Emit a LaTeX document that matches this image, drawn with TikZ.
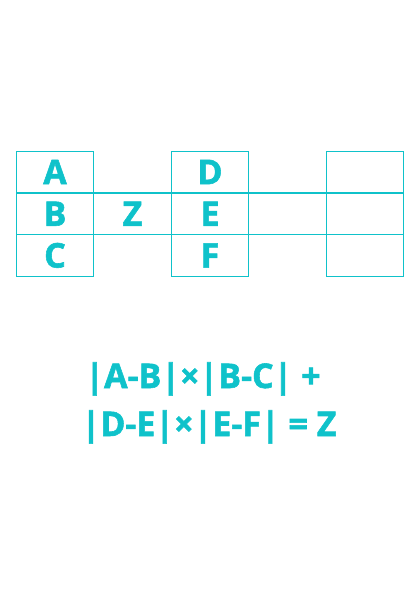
\documentclass[tikz,border=0pt]{standalone}
\usepackage{fontspec}
\setmainfont{Open Sans}[BoldFeatures={FakeBold=1.6}]
\usetikzlibrary{positioning}
\definecolor{aqua}{HTML}{0FC2CA}
\tikzset{
  cell/.style={draw=aqua, line width=1.3pt, minimum width=77.5pt, minimum height=41.7pt, inner sep=0pt, outer sep=0pt, font=\fontsize{34}{34}\selectfont\bfseries, text=aqua},
  eqline/.style={font=\fontsize{34}{34}\selectfont\bfseries, text=aqua, anchor=base},
}
\begin{document}
\begin{tikzpicture}[x=1pt, y=-1pt, node distance=0pt]
  \useasboundingbox (0,0) rectangle (420,594);
  % first column
  \node[cell] (a) at (55,172) {A};
  \node[cell, below=of a] (b) {B};
  \node[cell, below=of b] (c) {C};
  % the middle cell with Z
  \node[cell, right=of b] (z) {Z};
  % second column
  \node[cell, right=of z] (e) {E};
  \node[cell, above=of e] (d) {D};
  \node[cell, below=of e] (f) {F};
  % empty cells on the right
  \node[cell, right=of e] (gap) {};
  \node[cell, right=of gap] (q2) {};
  \node[cell, above=of q2] (q1) {};
  \node[cell, below=of q2] (q3) {};
  % the rule
  \node[eqline] (rule1) at (203,388) {|A-B|×|B-C| +};
  \node[eqline] (rule2) at (209,436) {|D-E|×|E-F| = Z};
\end{tikzpicture}
\end{document}
